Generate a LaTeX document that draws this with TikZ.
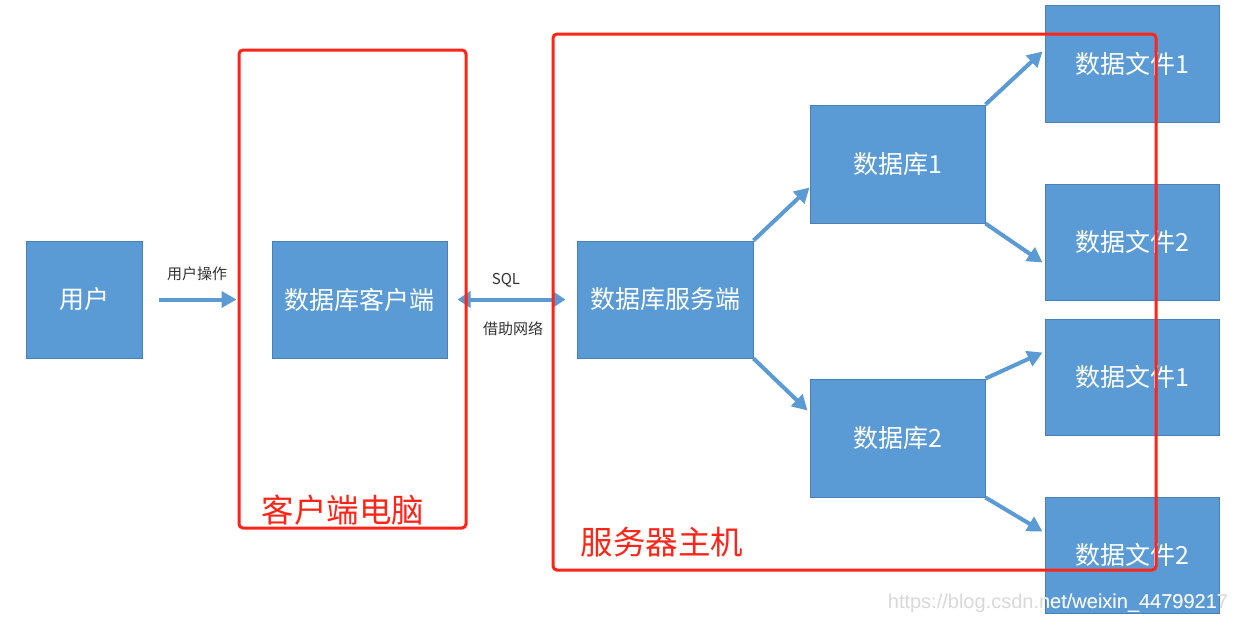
\documentclass[tikz,border=0pt]{standalone}
\usepackage{fontspec}
\newfontfamily\cjk{Noto Sans CJK SC}
\newfontfamily\wmfont{Liberation Sans}
\usetikzlibrary{arrows.meta}
\definecolor{boxblue}{HTML}{5B9BD5}
\definecolor{boxedge}{HTML}{4A80B8}
\definecolor{framered}{HTML}{FF2417}
\tikzset{
  blk/.style={draw=boxedge, line width=1pt, fill=boxblue, text=white, inner sep=0pt,
    font=\cjk\fontsize{25}{29}\selectfont},
  arr/.style={draw=boxblue, line width=4pt, -{Triangle[length=15pt,width=16pt]}},
  darr/.style={draw=boxblue, line width=4pt, {Triangle[length=13pt,width=16pt]}-{Triangle[length=13pt,width=16pt]}},
  small/.style={font=\cjk\fontsize{15}{18}\selectfont, text=black!80},
  redframe/.style={draw=framered, line width=3pt, rounded corners=4pt},
  redlabel/.style={text=framered, font=\cjk\fontsize{32.5}{36}\selectfont, inner sep=0pt},
  wmstyle/.style={font=\wmfont\fontsize{20}{22}\selectfont, inner sep=0pt},
}
\begin{document}
\begin{tikzpicture}[x=1pt,y=-1pt]
\useasboundingbox (0,0) rectangle (1234,625);
\fill[white] (0,0) rectangle (1234,625);
% boxes
\node[blk, minimum width=116pt, minimum height=117pt] (user) at (84,299.5) {用户};
\node[blk, minimum width=175pt, minimum height=117pt] (client) at (359.5,299.5) {数据库客户端};
\node[blk, minimum width=176pt, minimum height=117pt] (server) at (665,299.5) {数据库服务端};
\node[blk, minimum width=175pt, minimum height=118pt] (db1) at (897.5,164) {数据库1};
\node[blk, minimum width=175pt, minimum height=118pt] (db2) at (897.5,438) {数据库2};
\node[blk, minimum width=174pt, minimum height=117pt] (f1a) at (1132,63.5) {数据文件1};
\node[blk, minimum width=174pt, minimum height=116pt] (f2a) at (1132,242) {数据文件2};
\node[blk, minimum width=174pt, minimum height=116pt] (f1b) at (1132,377) {数据文件1};
\node[blk, minimum width=174pt, minimum height=116pt] (f2b) at (1132,555) {数据文件2};
% arrows
\draw[arr] ([xshift=16pt]user.east) -- ([xshift=-35pt]client.west);
\draw[darr] ([xshift=10pt]client.east) -- ([xshift=-11pt]server.west);
\draw[arr] (server.north east) -- ([yshift=36pt]db1.south west);
\draw[arr] (server.south east) -- ([xshift=-2pt,yshift=-32pt]db1.west |- db2.north);
\draw[arr] (db1.north east) -- ([xshift=-2pt,yshift=-47pt]f1a.north west);
\draw[arr] (db1.south east) -- ([xshift=-2pt,yshift=38pt]f2a.south west);
\draw[arr] (db2.north east) -- ([xshift=-2pt,yshift=-34pt]f1b.north west);
\draw[arr] (db2.south east) -- ([xshift=-2pt,yshift=-35pt]f2b.north west);
% arrow labels
\node[small] (lop) at (197,274) {用户操作};
\node[small] (lsql) at (506,280) {SQL};
\node[small] (lnet) at (513,329) {借助网络};
% red frames
\draw[redframe] (239,50) rectangle (466,528);
\draw[redframe] (553,34) rectangle (1156,570);
\node[redlabel] (lclient) at (343,510) {客户端电脑};
\node[redlabel] (lserver) at (662,542) {服务器主机};
% watermark: grey on white, near-white where it crosses the blue box
\node[wmstyle, text=gray!30] (wm) at (1058,603) {https://blog.csdn.net/weixin\_44799217};
\begin{scope}
  \clip (f2b.south west) rectangle (f2b.north east);
  \node[wmstyle, text=white!92!boxblue] (wmlight) at (1058,603) {https://blog.csdn.net/weixin\_44799217};
\end{scope}
\end{tikzpicture}
\end{document}
